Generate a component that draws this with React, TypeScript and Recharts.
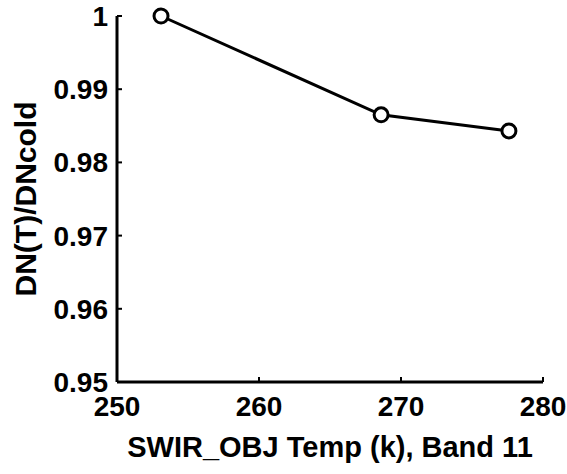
import { LineChart, Line, XAxis, YAxis } from 'recharts';

// SWIR_OBJ temperature (K) and normalised response DN(T)/DNcold
const temps = [253.1, 268.6, 277.6];
const ratios = [1.0, 0.9865, 0.9843];

const xTicks = [250, 260, 270, 280];
const yTicks = [0.95, 0.96, 0.97, 0.98, 0.99, 1];

const data = temps.map((t, i) => ({ temp: t, ratio: ratios[i] }));

const FONT = '"Liberation Sans", Arial, Helvetica, sans-serif';

const fmtY = (v: number) => (v === 1 ? '1' : v.toFixed(2));

export default function App() {
  return (
    <div style={{ position: 'absolute', left: 0, top: 0, width: 567, height: 474, background: '#fff' }}>
      <LineChart
        width={567}
        height={474}
        data={data}
        margin={{ top: 16, right: 24, bottom: 0, left: 0 }}
      >
        <XAxis
          dataKey="temp"
          type="number"
          domain={[250, 280]}
          ticks={xTicks}
          height={92}
          axisLine={{ stroke: '#000', strokeWidth: 3 }}
          tickLine={{ stroke: '#000', strokeWidth: 2 }}
          tickSize={-5}
          tickMargin={19}
          tick={{ fill: '#000', fontSize: 28, fontWeight: 'bold', fontFamily: FONT }}
          label={(props: any) => {
            const vb = props.viewBox;
            return (
              <text
                x={vb.x + vb.width / 2}
                y={447}
                textAnchor="middle"
                dominantBaseline="central"
                fontSize={29}
                fontWeight="bold"
                fontFamily={FONT}
                fill="#000"
              >
                SWIR_OBJ Temp (k), Band 11
              </text>
            );
          }}
        />
        <XAxis
          xAxisId="top"
          orientation="top"
          type="number"
          domain={[250, 280]}
          ticks={xTicks}
          height={0}
          axisLine={{ stroke: '#000', strokeWidth: 3 }}
          tickLine={{ stroke: '#000', strokeWidth: 2 }}
          tickSize={-5}
          tick={false}
        />
        <YAxis
          type="number"
          domain={[0.95, 1]}
          ticks={yTicks}
          width={117}
          tickFormatter={fmtY}
          axisLine={{ stroke: '#000', strokeWidth: 3 }}
          tickLine={{ stroke: '#000', strokeWidth: 2 }}
          tickSize={-5}
          tickMargin={14}
          tick={{ fill: '#000', fontSize: 28, fontWeight: 'bold', fontFamily: FONT }}
          label={(props: any) => {
            const vb = props.viewBox;
            const cy = vb.y + vb.height / 2;
            return (
              <text
                x={25}
                y={cy}
                transform={`rotate(-90, 25, ${cy})`}
                textAnchor="middle"
                dominantBaseline="central"
                fontSize={30}
                fontWeight="bold"
                fontFamily={FONT}
                fill="#000"
              >
                DN(T)/DNcold
              </text>
            );
          }}
        />
        <YAxis
          yAxisId="right"
          orientation="right"
          type="number"
          domain={[0.95, 1]}
          ticks={yTicks}
          width={0}
          axisLine={{ stroke: '#000', strokeWidth: 3 }}
          tickLine={{ stroke: '#000', strokeWidth: 2 }}
          tickSize={-5}
          tick={false}
        />
        <Line
          dataKey="ratio"
          type="linear"
          stroke="#000"
          strokeWidth={3}
          dot={{ r: 7, stroke: '#000', strokeWidth: 3, fill: '#fff' }}
          isAnimationActive={false}
        />
      </LineChart>
    </div>
  );
}
